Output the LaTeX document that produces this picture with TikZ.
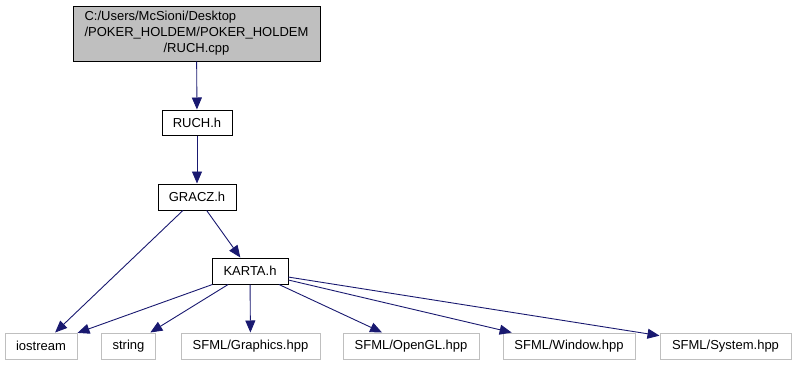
\documentclass[tikz,border=0pt]{standalone}
\usepackage{fontspec}
\setmainfont{Liberation Sans}
\usepackage{calc}
\usepackage{xcolor}
\usepackage{tikz}
\usetikzlibrary{arrows.meta,positioning,calc}

\definecolor{edgeblue}{HTML}{191970}
\definecolor{rootgray}{HTML}{BFBFBF}
\definecolor{extgray}{HTML}{BFBFBF}

\begin{document}
\begin{tikzpicture}[x=1pt, y=-1pt,
    every node/.style={font=\fontsize{13}{16}\selectfont, inner sep=0pt, rectangle},
    header/.style={draw=black, line width=1pt, minimum height=26pt},
    extfile/.style={draw=extgray, line width=1pt, minimum height=26pt},
    incl/.style={draw=edgeblue, line width=0.9pt, -{Triangle[length=12pt,width=10pt]}}]
    \useasboundingbox (0,0) rectangle (796,365);

    % Source file (first line left-aligned to the second)
    \node[draw=black, line width=1pt, fill=rootgray, minimum width=247pt, minimum height=55pt,
          align=center] (ruchcpp) at (196.5,33.5)
        {\makebox[\widthof{/POKER\_HOLDEM/POKER\_HOLDEM}][l]{C:/Users/McSioni/Desktop}\\
         /POKER\_HOLDEM/POKER\_HOLDEM\\/RUCH.cpp};

    % Project headers
    \node[header, minimum width=70pt, minimum height=25pt] (ruchh) at (197,122.5) {RUCH.h};
    \node[header, minimum width=78pt] (graczh) at (197,197) {GRACZ.h};
    \node[header, minimum width=76pt] (kartah) at (250,271) {KARTA.h};

    % External includes
    \foreach \name/\x/\w/\txt in {iostream/41/72/iostream, string/128.5/54/string,
            graphics/250.5/139/{SFML/Graphics.hpp}, opengl/411/136/{SFML/OpenGL.hpp},
            window/569/132/{SFML/Window.hpp}, system/725.5/131/{SFML/System.hpp}} {
        \node[extfile, minimum width=\w pt] (\name) at (\x,346) {\txt};
    }

    % Include edges
    \draw[incl] (ruchcpp) -- (ruchh);
    \draw[incl] (ruchh) -- (graczh);
    \draw[incl] (graczh) -- (iostream);
    \draw[incl] (graczh) -- (kartah);
    \foreach \dst in {iostream,string,graphics,opengl,window,system} {
        \draw[incl] (kartah) -- (\dst);
    }
\end{tikzpicture}
\end{document}
